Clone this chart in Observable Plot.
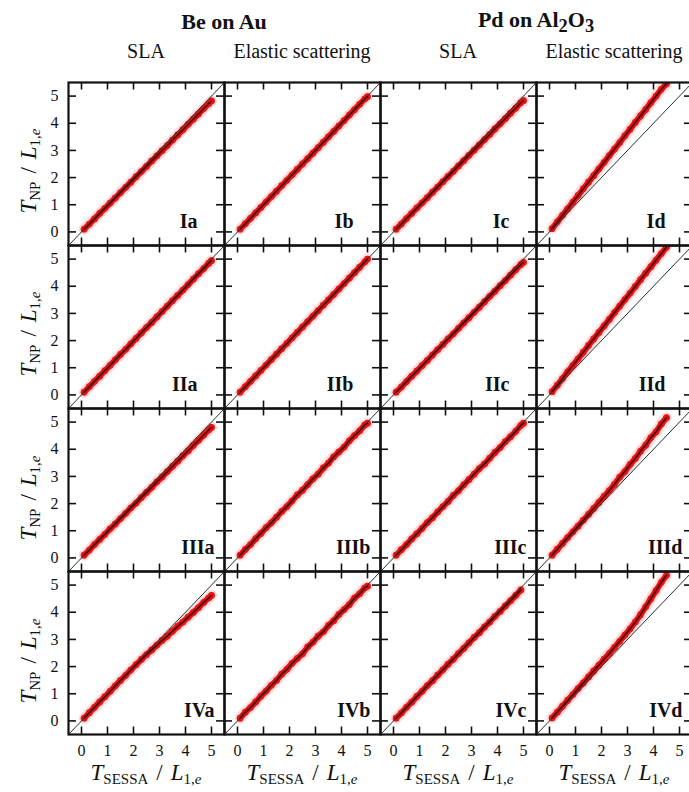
<!DOCTYPE html>
<html><head><meta charset="utf-8">
<script src="https://cdn.jsdelivr.net/npm/d3@7"></script>
<script src="https://cdn.jsdelivr.net/npm/@observablehq/plot@0.6"></script>
<style>
html,body{margin:0;padding:0;background:#fff;}
body{width:689px;height:792px;overflow:hidden;position:relative;font-family:"Liberation Serif","DejaVu Serif",serif;color:#111;}
#fig{position:absolute;left:0;top:0;}
.lbl{position:absolute;white-space:nowrap;transform:translate(-50%,-50%);line-height:1;}
.sys{font-weight:bold;font-size:22px;}
.meth{font-size:20px;}
.ax{font-size:23px;}
.ax i{font-style:italic;}
.ax sub{font-size:15px;font-style:normal;vertical-align:-4px;}
.ax .sl{padding:0 8px;}
.yt{transform:translate(-50%,-50%) rotate(-90deg);}
</style></head>
<body>
<div id="fig"></div>
<script>
// ---- data ----
const TS = [0.1,0.3,0.5,0.7,0.9,1.1,1.3,1.5,1.7,1.9,2.1,2.3,2.5,2.7,2.9,3.1,3.3,3.5,3.7,3.9,4.1,4.3,4.5,4.7,4.9,5.0];
const ROWS = ["I","II","III","IV"];
const COLS = ["a","b","c","d"];
const TICKS = [0,1,2,3,4,5];
const DOMAIN = [-0.5, 5.5];
const SYSTEMS = ["Be on Au", "Pd on Al<sub>2</sub>O<sub>3</sub>"];
const METHODS = ["SLA", "Elastic scattering", "SLA", "Elastic scattering"];

const Y_Ia = [0.10,0.29,0.48,0.68,0.87,1.06,1.25,1.45,1.64,1.83,2.03,2.22,2.41,2.61,2.80,2.99,3.18,3.38,3.57,3.76,3.96,4.15,4.34,4.54,4.73,4.82];
const Y_Ib = [0.10,0.30,0.50,0.70,0.90,1.10,1.30,1.50,1.70,1.90,2.10,2.30,2.50,2.70,2.90,3.10,3.30,3.50,3.70,3.90,4.10,4.30,4.50,4.70,4.90,4.98];
const Y_Ic = [0.10,0.29,0.49,0.68,0.88,1.07,1.26,1.46,1.65,1.85,2.04,2.23,2.43,2.62,2.82,3.01,3.20,3.40,3.59,3.79,3.98,4.17,4.37,4.56,4.76,4.83];
const Y_Id = [0.12,0.37,0.61,0.85,1.10,1.34,1.59,1.83,2.07,2.32,2.56,2.81,3.05,3.29,3.54,3.78,4.03,4.27,4.51,4.76,5.00,5.25,5.45,null,null,null];
const Y_IIa = [0.10,0.30,0.50,0.69,0.89,1.09,1.29,1.49,1.68,1.88,2.08,2.28,2.48,2.67,2.87,3.07,3.27,3.47,3.66,3.86,4.06,4.26,4.46,4.65,4.85,4.94];
const Y_IIb = [0.10,0.30,0.50,0.70,0.90,1.10,1.30,1.50,1.70,1.90,2.10,2.30,2.50,2.70,2.90,3.10,3.30,3.50,3.70,3.90,4.10,4.30,4.50,4.70,4.90,5.00];
const Y_IIc = [0.10,0.29,0.49,0.69,0.88,1.08,1.27,1.47,1.67,1.86,2.06,2.25,2.45,2.65,2.84,3.04,3.23,3.43,3.63,3.82,4.02,4.21,4.41,4.61,4.80,4.88];
const Y_IId = [0.12,0.36,0.60,0.85,1.09,1.33,1.57,1.82,2.06,2.30,2.54,2.78,3.03,3.27,3.51,3.75,3.99,4.24,4.48,4.72,4.96,5.20,5.44,null,null,null];
const Y_IIIa = [0.10,0.29,0.49,0.68,0.87,1.07,1.25,1.45,1.64,1.84,2.02,2.22,2.41,2.60,2.80,2.98,3.18,3.37,3.56,3.76,3.94,4.14,4.33,4.52,4.72,4.80];
const Y_IIIb = [0.10,0.31,0.49,0.71,0.90,1.11,1.29,1.50,1.71,1.89,2.10,2.32,2.49,2.70,2.91,3.08,3.31,3.49,3.72,3.90,4.08,4.31,4.50,4.68,4.90,4.96];
const Y_IIIc = [0.10,0.30,0.49,0.70,0.89,1.09,1.30,1.48,1.69,1.89,2.08,2.30,2.47,2.69,2.88,3.08,3.29,3.46,3.67,3.88,4.06,4.28,4.46,4.66,4.88,4.96];
const Y_IIId = [0.10,0.32,0.53,0.75,0.96,1.17,1.39,1.60,1.82,2.04,2.26,2.48,2.71,2.97,3.18,3.44,3.66,3.93,4.15,4.43,4.64,4.93,5.16,null,null,null];
const Y_IVa = [0.10,0.30,0.50,0.70,0.89,1.09,1.29,1.49,1.68,1.88,2.07,2.26,2.44,2.61,2.79,2.96,3.12,3.30,3.48,3.64,3.82,3.99,4.17,4.36,4.53,4.62];
const Y_IVb = [0.10,0.32,0.49,0.70,0.91,1.10,1.31,1.49,1.72,1.90,2.12,2.30,2.47,2.72,2.90,3.12,3.28,3.52,3.69,3.92,4.10,4.28,4.52,4.68,4.90,4.96];
const Y_IVc = [0.10,0.29,0.50,0.69,0.90,1.09,1.30,1.48,1.69,1.88,2.09,2.27,2.48,2.67,2.87,3.07,3.25,3.46,3.64,3.85,4.03,4.23,4.42,4.62,4.82,null];
const Y_IVd = [0.11,0.32,0.54,0.76,0.97,1.19,1.40,1.62,1.84,2.05,2.27,2.48,2.71,2.93,3.16,3.39,3.64,3.91,4.20,4.50,4.80,5.10,5.36,null,null,null];

// ---- build table ----
const SERIES = {Ia:Y_Ia, Ib:Y_Ib, Ic:Y_Ic, Id:Y_Id, IIa:Y_IIa, IIb:Y_IIb, IIc:Y_IIc, IId:Y_IId,
  IIIa:Y_IIIa, IIIb:Y_IIIb, IIIc:Y_IIIc, IIId:Y_IIId, IVa:Y_IVa, IVb:Y_IVb, IVc:Y_IVc, IVd:Y_IVd};
const panels = ROWS.flatMap(row => COLS.map(col => ({row, col, id: row + col})));
const pts = panels.flatMap(p => TS.map((x, i) => ({...p, x, y: SERIES[p.id][i]})).filter(d => d.y != null));
const diag = DOMAIN.map(v => ({x: v, y: v}));

// ---- geometry ----
const W = 689, H = 792, MT = 81, MB = 57, ML = 68, MR = -3;
const FW = (W - ML - MR) / COLS.length, FH = (H - MT - MB) / ROWS.length;
const TL = 8;
const FONT = "Liberation Serif, DejaVu Serif, serif";

const fig = Plot.plot({
  width: W, height: H,
  marginTop: MT, marginBottom: MB, marginLeft: ML, marginRight: MR,
  style: {fontFamily: FONT, fontSize: "16px", color: "#111", background: "white"},
  x: {domain: DOMAIN},
  y: {domain: DOMAIN},
  fx: {domain: COLS, axis: null, padding: 0},
  fy: {domain: ROWS, axis: null, padding: 0},
  marks: [
    Plot.line(pts, {x: "x", y: "y", z: "id", fx: "col", fy: "row", stroke: "#f4a6a6", strokeWidth: 11, strokeOpacity: 0.4, clip: true}),
    Plot.line(pts, {x: "x", y: "y", z: "id", fx: "col", fy: "row", stroke: "#e81414", strokeWidth: 6, clip: true}),
    Plot.dot(pts, {x: "x", y: "y", fx: "col", fy: "row", r: 3.4, fill: "#ec1212", stroke: "none", clip: true}),
    Plot.line(pts, {x: "x", y: "y", z: "id", fx: "col", fy: "row", stroke: "#2a0303", strokeWidth: 1.8, strokeOpacity: 0.8, clip: true}),
    Plot.line(diag, {x: "x", y: "y", stroke: "#1f3434", strokeWidth: 1, clip: true}),
    Plot.tickX(TICKS, {x: d => d, insetBottom: FH - TL, strokeWidth: 1.6, stroke: "#111"}),
    Plot.tickX(TICKS, {x: d => d, insetTop: FH - TL, strokeWidth: 1.6, stroke: "#111"}),
    Plot.tickY(TICKS, {y: d => d, insetRight: FW - TL, strokeWidth: 1.6, stroke: "#111"}),
    Plot.tickY(TICKS, {y: d => d, insetLeft: FW - TL, strokeWidth: 1.6, stroke: "#111"}),
    Plot.frame({stroke: "#111", strokeWidth: 2.2}),
    Plot.axisX(TICKS, {anchor: "bottom", tickSize: 0, tickPadding: 10, label: null, fontSize: 16, fontFamily: FONT}),
    Plot.axisY(TICKS, {anchor: "left", tickSize: 0, tickPadding: 10, label: null, fontSize: 16, fontFamily: FONT}),
    Plot.text(panels.filter(p => p.row === "I" || p.row === "II"), {fx: "col", fy: "row", text: "id", frameAnchor: "bottom-right", dx: -27, dy: -18, lineAnchor: "bottom", textAnchor: "end", fontWeight: "bold", fontSize: 20, fontFamily: FONT, fill: "#111"}),
    Plot.text(panels.filter(p => p.row === "III" || p.row === "IV"), {fx: "col", fy: "row", text: "id", frameAnchor: "bottom-right", dx: -10, dy: -18, lineAnchor: "bottom", textAnchor: "end", fontWeight: "bold", fontSize: 20, fontFamily: FONT, fill: "#111"})
  ]
});
document.getElementById("fig").appendChild(fig);

// ---- headers and axis titles ----
function add(html, cls, x, y) {
  const d = document.createElement("div");
  d.className = "lbl " + cls;
  d.innerHTML = html;
  d.style.left = x + "px";
  d.style.top = y + "px";
  document.body.appendChild(d);
}
SYSTEMS.forEach((s, i) => add(s, "sys", ML + FW * (2 * i + 1), 22));
METHODS.forEach((m, i) => add(m, "meth", ML + FW * (i + 0.5), 51));
const xt = '<i>T</i><sub>SESSA</sub><span class="sl">/</span><i>L</i><sub>1,<i>e</i></sub>';
const yt = '<i>T</i><sub>NP</sub><span class="sl">/</span><i>L</i><sub>1,<i>e</i></sub>';
COLS.forEach((c, i) => add(xt, "ax", ML + FW * (i + 0.5), 774));
ROWS.forEach((r, i) => add(yt, "ax yt", 30, MT + FH * (i + 0.5) + 8));
</script>
</body></html>
